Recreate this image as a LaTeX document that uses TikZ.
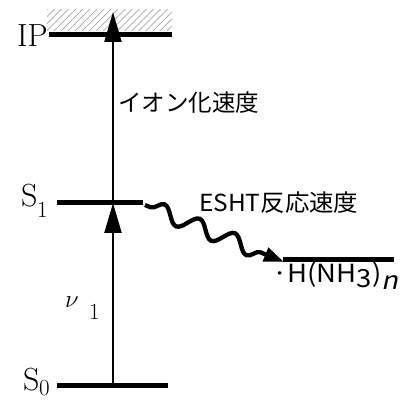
\documentclass[tikz,border=0pt]{standalone}
\usepackage{fontspec}
\newfontfamily\jp{Noto Sans CJK JP}
\newfontfamily\jpsl{Noto Sans CJK JP}[FakeSlant=0.2]
\usetikzlibrary{patterns.meta,decorations.pathmorphing,arrows.meta}
\begin{document}
\begin{tikzpicture}[x=1pt,y=-1pt,
  level/.style={line width=5pt},
  rung/.style={line width=2.3pt},
  bigtip/.style={-{Triangle[length=30pt,width=17pt]}},
  serif/.style={font=\fontsize{32}{32}\selectfont, inner sep=0pt},
  sublab/.style={font=\fontsize{23}{23}\selectfont, inner sep=0pt},
  jlab/.style={font=\jp\fontsize{23.5}{23.5}\selectfont, inner sep=0pt}]
\useasboundingbox (0,0) rectangle (410,403);
% hatched continuum above IP
\fill[pattern={Lines[angle=45,distance=5pt,line width=0.7pt]}, pattern color=gray!70] (47,10) rectangle (172,31);
% levels
\coordinate (ipl) at (49,34.5); \coordinate (ipr) at (172,34.5);
\coordinate (s1l) at (57,203); \coordinate (s1r) at (143,203);
\coordinate (s0l) at (57,385.5); \coordinate (s0r) at (168,385.5);
\coordinate (hl) at (283,260); \coordinate (hr) at (394,260);
\draw[level] (ipl) -- (ipr);
\draw[level] (s1l) -- (s1r);
\draw[level] (s0l) -- (s0r);
\draw[level] (hl) -- (hr);
% vertical excitation arrows
\coordinate (s0m) at (113,385.5);
\coordinate (s1m) at (113,203);
\coordinate (ipt) at (113,12);
\draw[rung,bigtip] (s0m) -- (s1m);
\draw[rung,bigtip] (s1m) -- (ipt);
% wavy arrow
\coordinate (ws) at (145,205);
\coordinate (we) at (284,262);
\draw[line width=4.3pt, decorate, decoration={snake, amplitude=8pt, segment length=38pt, pre length=6pt, post length=18pt},
  -{Triangle[length=20pt,width=14pt]}] (ws) -- (we);
% labels
\node[serif, anchor=base east] (iplab) at (48,47) {IP};
\node[serif, anchor=base west] (s1lab) at (21,207) {S};
\node[sublab, anchor=base west] (s1sub) at (37,218) {1};
\node[serif, anchor=base west] (s0lab) at (23,391) {S};
\node[sublab, anchor=base west] (s0sub) at (39,396) {0};
\node[serif, anchor=base west] (nulab) at (65,308) {$\nu$};
\node[sublab, anchor=base west] (nusub) at (89,320) {1};
\node[jlab, anchor=west] (ion) at (118,103) {イオン化速度};
\node[jlab, anchor=west] (esht) at (199,203) {\scalebox{1.04}[1]{ESHT反応速度}};
\node[jlab, anchor=base west] (hlab) at (272,283) {\fontsize{25}{25}\selectfont\scalebox{1.1}[1]{·H(NH\raisebox{-5pt}{3})\raisebox{-7pt}{\jpsl n}}};
\end{tikzpicture}
\end{document}
